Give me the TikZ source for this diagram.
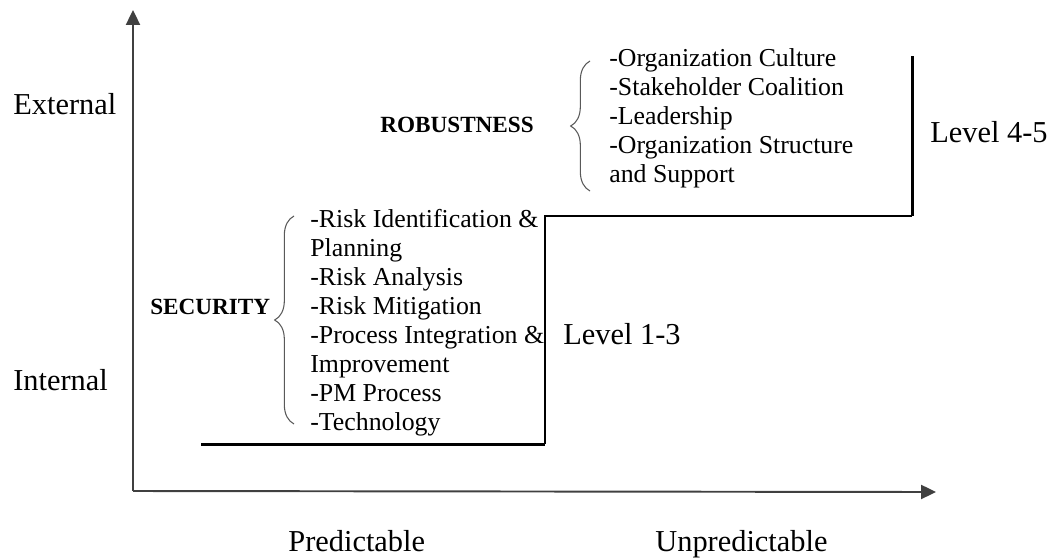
\documentclass[tikz,border=0pt]{standalone}
\usepackage{fontspec}
\setmainfont{Liberation Serif}
\usetikzlibrary{arrows.meta,decorations.pathreplacing,positioning}

\begin{document}
\begin{tikzpicture}[x=0.02cm, y=-0.02cm,
  axis/.style={line width=1.1pt, draw=black!75, -{Triangle[length=8.5pt, width=8pt]}},
  big/.style={font=\fontsize{17.3}{20}\selectfont, inner sep=0pt, anchor=base west},
  cat/.style={font=\fontsize{13.2}{16}\selectfont\bfseries, inner sep=0pt, anchor=west},
  lst/.style={font=\fontsize{14.7}{16.5}\selectfont, align=left, inner sep=0pt, anchor=north west},
  brc/.style={decorate, decoration={brace, amplitude=11pt}, draw=black!65, line width=0.6pt}]
\useasboundingbox (0,0) rectangle (1051,558);

% axes
\coordinate (o) at (133,491);
\coordinate (ytip) at (133,10);
\coordinate (xtip) at (936,492);
\draw[axis] (o) -- (ytip);
\draw[axis] (o) -- (xtip);

\foreach \nm/\x/\y/\txt in {ext/13/114/External, int/13/390/Internal,
  pred/288/551/Predictable, unpred/655/551/Unpredictable,
  lvlow/563/344/Level 1-3, lvhigh/930/142/Level 4-5}{
  \node[big] (\nm) at (\x,\y) {\txt};
}

% steps
\coordinate (s0) at (201,444);
\coordinate (s1) at (545,444);
\coordinate (s2) at (545,216);
\coordinate (s3) at (912,216);
\coordinate (s4) at (912,56);
\draw[line width=1.7pt] (s0) -- (s1);
\draw[line width=0.9pt] (s1) -- (s2) -- (s3);
\draw[line width=1.7pt] (s3) -- (s4);

% security
\node[cat] (sec) at (150,307) {SECURITY};
\node[lst] (secitems) at (310,209) {-Risk Identification \&\\Planning\\-Risk Analysis\\-Risk Mitigation\\
  -Process Integration \&\\Improvement\\-PM Process\\-Technology};
\draw[brc] (294,424) -- (294,216);

% robustness
\node[cat] (rob) at (380,125) {ROBUSTNESS};
\node[lst] (robitems) at (609,48) {-Organization Culture\\-Stakeholder Coalition\\-Leadership\\
  -Organization Structure\\and Support};
\draw[brc] (590,191) -- (590,61);

\end{tikzpicture}
\end{document}
